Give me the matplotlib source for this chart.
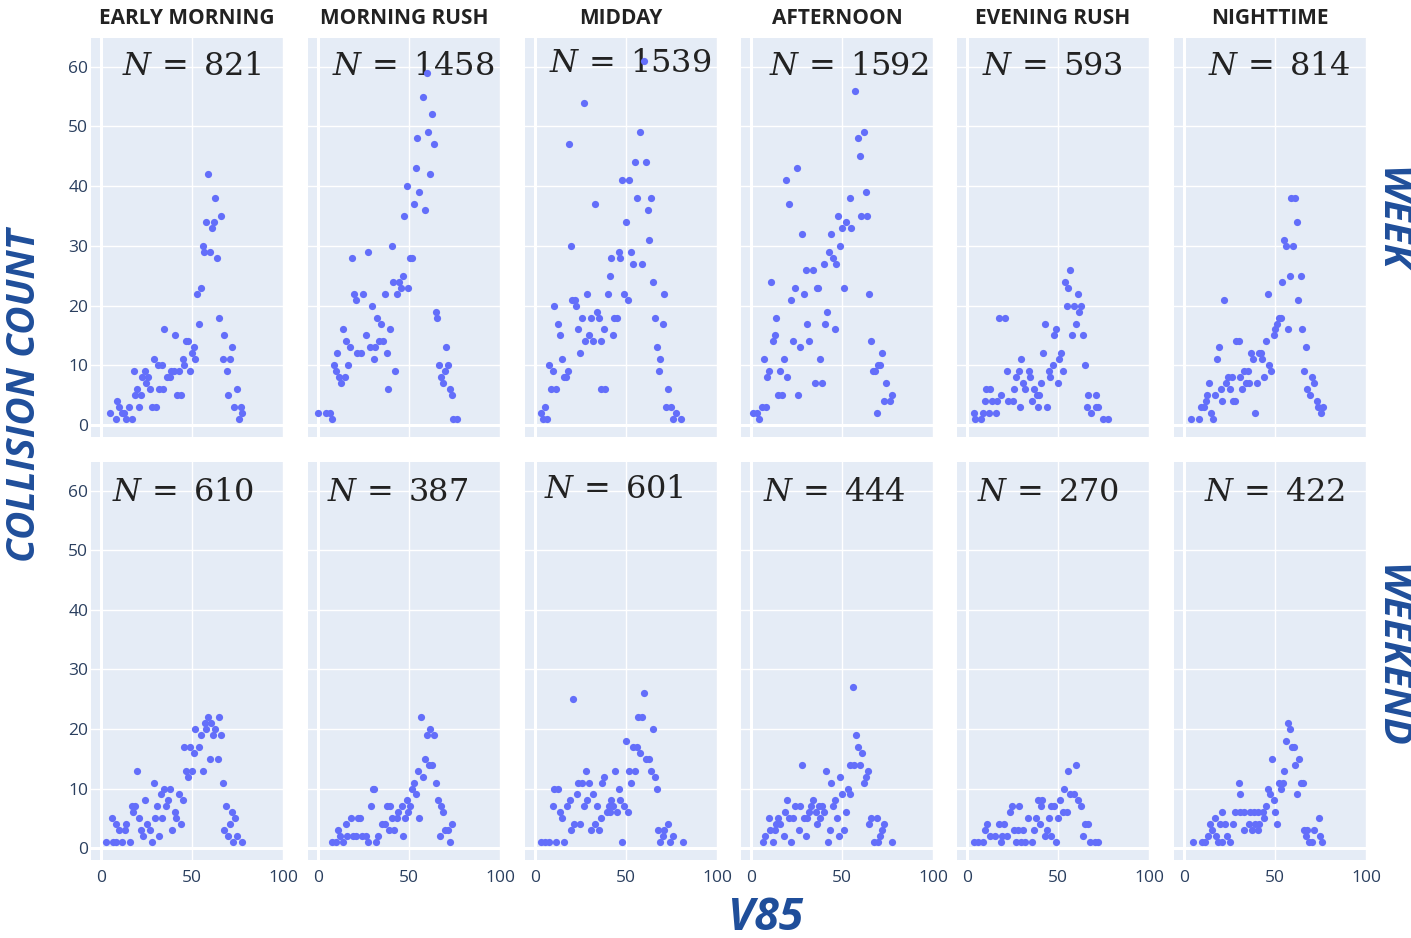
import matplotlib
matplotlib.use("Agg")
import matplotlib.pyplot as plt

plt.rcParams['font.family'] = ['Open Sans', 'DejaVu Sans']
plt.rcParams['mathtext.fontset'] = 'dejavuserif'

# ---------------- data ----------------
time_periods = ["EARLY MORNING", "MORNING RUSH", "MIDDAY", "AFTERNOON", "EVENING RUSH", "NIGHTTIME"]
day_types = ["WEEK", "WEEKEND"]
n_week = [821, 1458, 1539, 1592, 593, 814]
n_weekend = [610, 387, 601, 444, 270, 422]
x_ticks = [0, 50, 100]
y_ticks = [0, 10, 20, 30, 40, 50, 60]

# (V85, collision count) pairs per panel
week_early_morning = [(59,42),(62.6,38),(65.8,35),(57.7,34),(61.9,34),(60.8,33),(55.9,30),(56.8,29),(59.9,29),(63.9,28),
    (55,23),(52.7,22),(53.8,17),(64.8,18),(34.8,16),(40.8,15),(46.7,14),(48,14),(51,13),(71.8,13),(50,12),(67.8,15),
    (28.9,11),(44.9,11),(51.8,11),(66.8,11),(70.9,11),(31.1,10),(33.3,10),(45.8,10),(18.1,9),(24,9),(38.5,9),(40,9),
    (43,9),(49,9),(69,9),(22.7,8),(26,8),(36,8),(37.7,8),(24.7,7),(26.9,6),(31.7,6),(34,6),(74.9,6),(19.8,6),(18.7,5),
    (22,5),(41.8,5),(44,5),(69.6,5),(9,4),(10,3),(15.4,3),(21,3),(28,3),(30,3),(72.9,3),(76.9,3),(5,2),(11.5,2),
    (12.8,2),(77.7,2),(8,1),(14,1),(17,1),(75.8,1)]
week_morning_rush = [(59.9,59),(57.7,55),(62.6,52),(60.6,49),(54.6,48),(63.7,47),(53.7,43),(61.5,42),(48.7,40),(55.7,39),
    (52.6,37),(58.6,36),(47.4,35),(40.7,30),(18.7,28),(27.7,29),(50.5,28),(51.6,28),(46.5,25),(41.4,24),(44.5,24),
    (45.6,23),(49.6,23),(19.8,22),(24.7,22),(20.7,21),(36.6,22),(43.6,22),(29.7,20),(64.7,19),(65.6,18),(32.6,18),
    (34.6,17),(13.7,16),(39.6,16),(26.6,15),(15.6,14),(33.5,14),(35.9,14),(17.8,13),(28.6,13),(31.5,13),(70.5,13),
    (10.6,12),(21.4,12),(23.6,12),(37.7,12),(30.6,11),(8.6,10),(16.7,10),(66.5,10),(71.6,10),(9.7,9),(42.5,9),(69.6,9),
    (11.5,8),(14.7,8),(67.6,8),(12.6,7),(68.5,7),(38.6,6),(72.5,6),(73.4,5),(0,2),(4.6,2),(6.4,2),(7.9,1),(74.2,1),(76.6,1)]
week_midday = [(60.1,61),(26.8,54),(57.9,49),(18.8,47),(55,44),(60.9,44),(47.8,41),(51.8,41),(32.8,37),(55.9,38),(64,38),
    (62,36),(50,34),(62.7,31),(19.7,30),(45.9,29),(52.8,29),(41.9,28),(46.9,28),(53.9,27),(59,27),(41,25),(65,24),
    (28.8,22),(39.9,22),(48.9,22),(71,22),(20.5,21),(21.8,21),(50.9,21),(10.7,20),(22.7,20),(33.9,19),(25.8,18),
    (30.8,18),(34.9,18),(43.5,18),(45,18),(65.9,18),(12.7,17),(70.1,17),(23.8,16),(37.8,16),(13.7,15),(29.9,15),
    (42.8,15),(27.7,14),(31.9,14),(36,14),(24.7,12),(67,13),(68.8,11),(14.8,11),(7.7,10),(9.8,9),(17.9,9),(67.9,9),
    (16,8),(17,8),(8.7,6),(11.8,6),(36.5,6),(38.6,6),(72.9,6),(5.7,3),(71.8,3),(74.9,3),(3.5,2),(77.7,2),(4.4,1),
    (6.8,1),(76,1),(80.3,1)]
week_afternoon = [(56.9,56),(62.1,49),(59,48),(60.1,45),(25,43),(19.1,41),(63,39),(54.2,38),(20.9,37),(47.9,35),(60.7,35),
    (64,35),(52.2,34),(50.2,33),(55.1,33),(28,32),(44,32),(49.1,30),(42.9,29),(45.2,28),(40.1,27),(46.9,27),(30,26),
    (33.8,26),(10.8,24),(23.9,23),(36,23),(36.9,23),(50.9,23),(28.9,22),(65.1,22),(22,21),(41.7,19),(13.8,18),(30.7,17),
    (40.8,17),(46,16),(13,15),(11.9,14),(23,14),(31.8,14),(26.7,13),(66,14),(72.1,12),(7,11),(18,11),(37.9,11),
    (69.7,10),(70.9,10),(9.9,9),(15.8,9),(66.9,9),(68,9),(9,8),(19.9,8),(34.9,7),(39.2,7),(74.1,7),(15.1,5),(17.3,5),
    (26,5),(77.2,5),(73,4),(76.3,4),(5.9,3),(8.3,3),(69,2),(0.9,2),(3.1,2),(4.4,1)]
week_evening_rush = [(56.6,26),(53.7,24),(55.7,23),(60.8,22),(54.8,20),(58.8,20),(62.9,20),(61.8,19),(17.8,18),(20.8,18),
    (59.7,17),(42.8,17),(48.9,16),(47.6,15),(57.7,15),(63.8,15),(51.5,12),(41.7,12),(50.7,11),(29.8,11),(47.2,10),
    (64.9,10),(21.9,9),(28.3,9),(34,9),(45.2,9),(52.8,9),(26.8,8),(34.7,8),(45.6,8),(30.7,7),(40.8,7),(49.8,7),(10.5,6),
    (12.7,6),(25.7,6),(31.8,6),(36.8,6),(18.9,5),(39.7,5),(38.6,5),(66.7,5),(70.8,5),(9.7,4),(13.9,4),(16.5,4),(22.6,4),
    (25,4),(35.8,4),(28.9,3),(38.9,3),(43.9,3),(65.8,3),(70.8,3),(72.1,3),(3.7,2),(8.8,2),(11.9,2),(15.8,2),(68,2),
    (4.6,1),(7.7,1),(74.6,1),(77.6,1)]
week_nighttime = [(58.8,38),(61,38),(62,34),(55,31),(56,30),(60.1,30),(58.1,25),(64.2,25),(54,24),(46,22),(22,21),(62.9,21),
    (52.2,18),(53.1,18),(51.1,17),(50.2,16),(57,16),(65.1,16),(49.3,15),(45,14),(28.7,14),(30.1,14),(19.1,13),(67.1,13),
    (36.8,12),(41.2,12),(42.1,12),(37.9,11),(43,11),(18,11),(46.9,10),(48,9),(33.1,9),(35.3,9),(66.2,9),(23.9,8),
    (26.1,8),(31,8),(44.1,8),(70.2,8),(13.9,7),(22.9,7),(34.1,7),(35.8,7),(40,7),(71.7,7),(20.1,6),(25.1,6),(31.9,6),
    (67.6,6),(12.8,5),(17,5),(69,5),(12.1,4),(20.9,4),(26.8,4),(28.1,4),(73,4),(9.2,3),(10.8,3),(73.7,3),(76.1,3),
    (15.1,2),(39,2),(75.2,2),(3.9,1),(8.1,1),(16,1)]

weekend_early_morning = [(59,22),(65,22),(57,21),(60.6,21),(51.8,20),(57.9,20),(62.6,20),(55,19),(61.7,19),(65.9,19),
    (45.6,17),(48.7,17),(53.8,17),(50.9,16),(60,15),(64.1,15),(20,13),(46.7,13),(50,13),(55.9,13),(47.8,12),(28.9,11),
    (66.8,11),(34.8,10),(38.1,10),(33,9),(43,9),(36.8,8),(45.1,8),(24,8),(17,7),(18.9,7),(31,7),(35.9,7),(68.7,7),
    (17.8,6),(40.5,6),(71.8,6),(5.9,5),(20.9,5),(29.7,5),(33.7,5),(41.4,5),(73.8,5),(8.1,4),(13.9,4),(25.1,4),(44,4),
    (70.9,4),(9.9,3),(13.2,3),(22,3),(26.9,3),(38.8,3),(67.8,3),(22.9,2),(31.9,2),(69.8,2),(74.7,2),(2.9,1),(6.8,1),
    (8.4,1),(11.7,1),(15.9,1),(28,1),(72.7,1),(77.7,1)]
weekend_morning_rush = [(56.8,22),(61.7,20),(59.9,19),(63.7,19),(58.8,15),(61.2,14),(62.8,14),(54.8,13),(57.9,12),(52.7,11),
    (64.8,11),(30.2,10),(31,10),(51.6,10),(53.8,9),(48.9,8),(65.7,8),(28.9,7),(37.9,7),(39.7,7),(46,7),(50.7,7),(67.6,7),
    (44.1,6),(49.6,6),(68.7,6),(17.9,5),(22,5),(23.1,5),(40.7,5),(43.2,5),(47.6,5),(55.7,5),(15.6,4),(35.2,4),(36.8,4),
    (73.6,4),(10.8,3),(38.8,3),(41.8,3),(69.8,3),(71.6,3),(12.3,2),(16.1,2),(19,2),(20.7,2),(24.4,2),(26.4,2),(33.2,2),
    (46.7,2),(66.9,2),(7.5,1),(9.7,1),(13.9,1),(27.7,1),(31.7,1),(72.5,1)]
weekend_midday = [(60.1,26),(20.7,25),(56.8,22),(58.9,22),(65,20),(50,18),(53.7,17),(55.9,17),(57.9,16),(60.9,15),(62.9,15),
    (27.9,13),(44.1,13),(51.7,13),(55,13),(64,13),(37.8,12),(66.1,12),(23.8,11),(25.6,11),(29.9,11),(36.9,11),(52.8,11),
    (10.3,10),(12.7,10),(45.9,10),(67,10),(22.9,9),(31.7,9),(19,8),(28.8,8),(41.9,8),(46.9,8),(9.8,7),(17.7,7),(26.8,7),
    (33.9,7),(40.6,7),(43,7),(49.1,7),(14,6),(39.5,6),(41.2,6),(44.8,6),(51.1,6),(14.9,5),(36,5),(21.6,4),(24.9,4),
    (32.7,4),(73.1,4),(19.7,3),(30.8,3),(34.9,3),(67.5,3),(71,3),(70.3,2),(76,2),(3.5,1),(5.4,1),(7.6,1),(11.6,1),
    (15.9,1),(47.8,1),(68.8,1),(74.2,1),(81.2,1)]
weekend_afternoon = [(56.1,27),(57.9,19),(59,17),(61.2,16),(54.6,14),(56.6,14),(59.9,14),(27.9,14),(41.2,13),(64.2,13),
    (49.1,12),(63,12),(43.9,11),(62.1,11),(53.1,10),(50,9),(54.2,9),(20,8),(34,8),(46.1,8),(24.3,7),(27,7),(32.9,7),
    (37.1,7),(39,7),(45.2,7),(18.9,6),(32,6),(35.7,6),(40.3,6),(52,6),(9.9,5),(15.1,5),(21,5),(23.2,5),(28.9,5),(30.9,5),
    (37.7,5),(47.1,5),(66.2,5),(69.3,5),(13.8,4),(15.8,4),(36.1,4),(65.1,4),(73.1,4),(10.7,3),(13.1,3),(26.2,3),
    (43.2,3),(51.3,3),(72.1,3),(7.9,2),(18.3,2),(30,2),(48.2,2),(71,2),(6.8,1),(12,1),(22,1),(42.1,1),(67.5,1),(69.7,1),
    (77.3,1)]
weekend_evening_rush = [(59.9,14),(55.7,13),(53.1,10),(56.6,9),(58.8,9),(61,8),(39,8),(41,8),(50.9,8),(62.7,7),(40.6,7),
    (24.8,7),(28.7,7),(46.3,7),(47.6,7),(23.7,6),(52.8,6),(55,6),(33.6,5),(37.9,5),(44.9,5),(49.8,5),(10.8,4),(17.5,4),
    (20.6,4),(39.9,4),(65.1,4),(66.5,4),(9.7,3),(25.6,3),(27.9,3),(30.9,3),(36.8,3),(43.8,3),(12.9,2),(15.6,2),(19.3,2),
    (21.7,2),(42.8,2),(46.1,2),(63.6,2),(3.7,1),(6.3,1),(8.8,1),(18.9,1),(26.7,1),(29.6,1),(31.6,1),(35.8,1),(48.9,1),
    (67.8,1),(70.6,1),(72.1,1)]
weekend_nighttime = [(57,21),(58.2,20),(56.3,18),(59.4,17),(60.5,17),(63.1,15),(48.2,15),(61.2,14),(55.1,13),(52,11),
    (54.2,11),(30.1,11),(64.5,11),(65.4,11),(46,10),(53.1,10),(30.9,9),(47.1,9),(62.1,9),(49.3,8),(45,7),(20.9,6),
    (28.2,6),(30.6,6),(32.8,6),(36,6),(38.2,6),(40.4,6),(43.3,6),(50,6),(17,5),(44,5),(74,5),(14.1,4),(19.8,4),(22.3,4),
    (26.9,4),(35.7,4),(39,4),(41.4,4),(50.9,4),(15.6,3),(33.2,3),(37.2,3),(40.8,3),(65.8,3),(67.8,3),(71.4,3),(13,2),
    (17.8,2),(23.6,2),(66.8,2),(74.9,2),(5.1,1),(9.9,1),(11.4,1),(18.9,1),(21.1,1),(25.3,1),(68.7,1),(70.1,1),(76,1)]

panels = [
    [week_early_morning, week_morning_rush, week_midday, week_afternoon, week_evening_rush, week_nighttime],
    [weekend_early_morning, weekend_morning_rush, weekend_midday, weekend_afternoon, weekend_evening_rush, weekend_nighttime],
]
n_values = [n_week, n_weekend]

# ---------------- layout ----------------
W, H = 1411, 938
fig = plt.figure(figsize=(W / 100, H / 100), dpi=100)
fig.patch.set_facecolor('white')

col_left = [91, 308, 525, 741, 957, 1174]
col_w = 192
row_top = [38, 462]
row_bot = [437, 860]
# label centre x (data units) for the N annotation in each panel
n_label_x = [[50, 52.5, 52, 54, 47, 52.5], [45, 44, 43.4, 45.6, 44.5, 49.5]]
n_label_y = [[60.0, 60.0, 60.5, 60.0, 60.0, 60.0], [59.7, 59.7, 60.2, 59.7, 59.7, 59.7]]

BG = '#E5ECF6'
DOT = '#636EFA'
TICK = '#2a3f5f'
BLUE = '#1f4e9a'

for r in range(2):
    for c in range(6):
        ax = fig.add_axes([col_left[c] / W, 1 - row_bot[r] / H, col_w / W, (row_bot[r] - row_top[r]) / H])
        ax.set_facecolor(BG)
        for s in ax.spines.values():
            s.set_visible(False)
        ax.set_xlim(-5.5, 100)
        ax.set_ylim(-2, 64.8)
        ax.set_xticks(x_ticks)
        ax.set_yticks(y_ticks)
        ax.set_axisbelow(True)
        ax.grid(True, color='white', linewidth=1.0)
        ax.axhline(0, color='white', linewidth=2.2, zorder=1)
        ax.axvline(0, color='white', linewidth=2.2, zorder=1)
        ax.tick_params(length=0, labelsize=12.5, labelcolor=TICK)
        ax.tick_params(axis='x', pad=7)
        ax.tick_params(axis='y', pad=2)
        if r == 0:
            ax.set_xticklabels([])
        if c != 0:
            ax.set_yticklabels([])
        pts = panels[r][c]
        xs = [p[0] for p in pts]
        ys = [p[1] for p in pts]
        ax.scatter(xs, ys, s=27, color=DOT, linewidths=0, zorder=3)
        ax.text(n_label_x[r][c], n_label_y[r][c], r'$N\,=\;%d$' % n_values[r][c],
                ha='center', va='center', fontsize=23, color='#222222', zorder=2)

# column titles
for c, name in enumerate(time_periods):
    fig.text((col_left[c] + col_w / 2) / W, 1 - 18 / H, name, ha='center', va='center',
             fontsize=15, fontweight='bold', color='#222222')

# row labels
row_label_y = [219, 656]
for r, name in enumerate(day_types):
    fig.text(1410 / W, 1 - row_label_y[r] / H, name, rotation=-90, ha='right', va='center',
             fontsize=29, fontweight='bold', fontstyle='italic', color=BLUE)

# axis titles
fig.text(25 / W, 1 - 395 / H, 'COLLISION COUNT', rotation=90, ha='center', va='center',
         fontsize=28, fontweight='bold', fontstyle='italic', color=BLUE)
fig.text(766 / W, 1 - 918 / H, 'V85', ha='center', va='center',
         fontsize=32, fontweight='bold', fontstyle='italic', color=BLUE)

fig.savefig('out.png', dpi=100, facecolor='white')
